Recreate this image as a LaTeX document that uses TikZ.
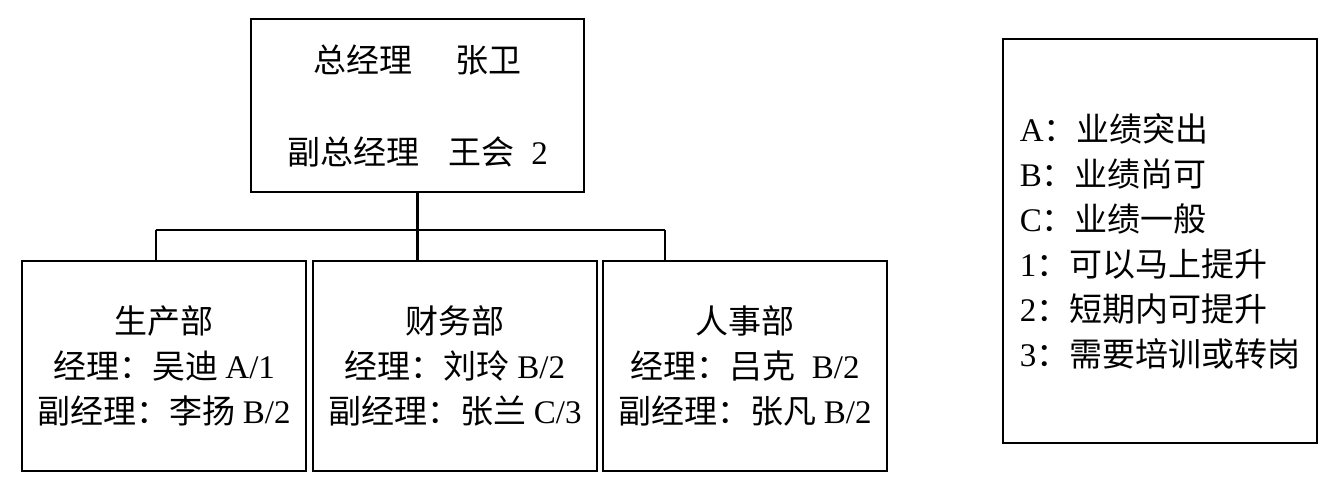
\documentclass[tikz,border=0pt]{standalone}
\usepackage{fontspec}
\setmainfont{Liberation Serif}
\newfontfamily\cjk{Noto Sans CJK SC}
\newcommand\latn[1]{{\rmfamily #1}}
\begin{document}
\begin{tikzpicture}[x=0.5pt,y=-0.5pt,
  box/.style={draw, line width=1.1pt, inner sep=0pt, align=center,
    font=\cjk\fontsize{16.5}{22.5}\selectfont},
  dept/.style={box, minimum width=142pt, minimum height=105pt},
  link/.style={line width=1.1pt}]
\useasboundingbox (0,0) rectangle (1338,489);
\node[box, minimum width=166.5pt, minimum height=86.5pt] (top) at (417.5,105.5)
  {总经理\hspace{1.3em}张卫\\[23.5pt]副总经理\hspace{0.9em}王会\hspace{0.5em}\latn{2}};
\node[dept] (d1) at (164,366) {生产部\\经理：吴迪 \latn{A/1}\\副经理：李扬 \latn{B/2}};
\node[dept] (d2) at (455,366) {财务部\\经理：刘玲 \latn{B/2}\\副经理：张兰 \latn{C/3}};
\node[dept] (d3) at (745,366) {人事部\\经理：吕克\hspace{0.5em}\latn{B/2}\\副经理：张凡 \latn{B/2}};
\node[box, align=left, minimum width=157pt, minimum height=202pt] (legend) at (1160,241)
  {\latn{A}：业绩突出\\\latn{B}：业绩尚可\\\latn{C}：业绩一般\\\latn{1}：可以马上提升\\\latn{2}：短期内可提升\\\latn{3}：需要培训或转岗};
\coordinate (b1) at (156,230);
\coordinate (bus) at (417.5,230);
\coordinate (b3) at (665,230);
\draw[link] (top.south) -- (bus) -- (bus |- d2.north);
\draw[link] (b1) -- (b3);
\draw[link] (b1) -- (b1 |- d1.north);
\draw[link] (b3) -- (b3 |- d3.north);
\end{tikzpicture}
\end{document}
